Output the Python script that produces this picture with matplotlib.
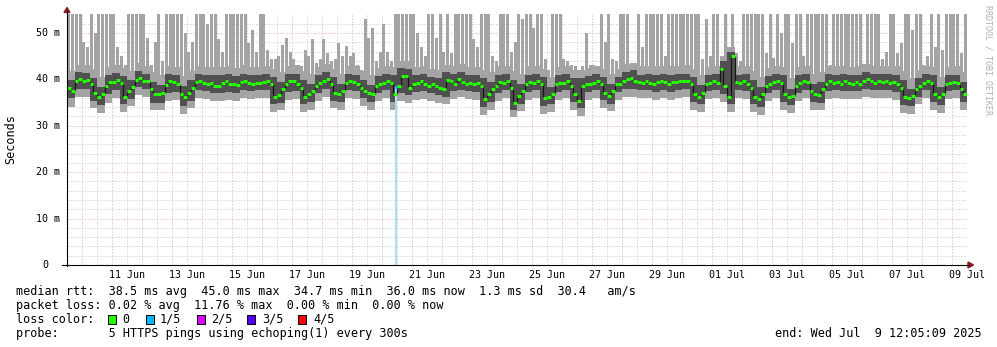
import matplotlib
import numpy as np
import pandas as pd

matplotlib.use("Agg")
import matplotlib.pyplot as plt
import matplotlib.dates as mdates
import matplotlib.transforms as mtransforms
from matplotlib.lines import Line2D
from matplotlib.patches import Polygon, Rectangle

# ---- data (ms), 3-hour steps from 9 Jun 12:05 ----
START = "2025-06-09 12:05:09"

median_rtt = [
    38.2, 37.5, 39.6, 40.0, 39.6, 39.9, 38.9, 37.1,
    36.3, 36.8, 38.6, 39.4, 39.4, 39.9, 39.3, 36.3,
    37.5, 38.4, 39.9, 40.4, 39.6, 39.6, 37.9, 36.8,
    36.8, 37.1, 38.7, 39.6, 39.4, 38.9, 36.8, 36.1,
    37.1, 38.2, 39.4, 39.6, 39.3, 39.1, 39.3, 38.6,
    38.6, 39.3, 39.6, 38.9, 39.1, 38.7, 39.4, 39.6,
    39.3, 39.1, 39.3, 39.3, 39.4, 39.6, 38.9, 36.3,
    36.6, 37.9, 38.9, 39.6, 39.6, 39.1, 38.2, 36.3,
    36.8, 37.5, 38.6, 39.3, 39.6, 40.0, 38.9, 37.1,
    36.8, 37.5, 39.3, 39.6, 39.4, 39.1, 38.2, 37.5,
    37.1, 36.8, 38.6, 39.1, 39.3, 39.6, 39.3, 36.8,
    38.6, 40.8, 40.7, 38.2, 38.9, 39.3, 39.6, 39.1,
    38.6, 38.9, 38.6, 38.2, 37.9, 39.9, 39.6, 39.1,
    40.0, 39.4, 39.1, 39.3, 38.9, 39.3, 38.6, 35.7,
    36.8, 37.9, 38.6, 39.4, 39.3, 39.6, 38.2, 35.0,
    36.4, 37.5, 38.9, 39.4, 39.3, 39.6, 38.9, 35.9,
    36.3, 36.8, 38.9, 39.3, 39.3, 39.6, 38.6, 36.8,
    35.4, 38.6, 38.9, 39.1, 39.3, 39.6, 38.9, 37.1,
    36.4, 37.5, 38.9, 38.9, 39.6, 40.0, 40.4, 39.6,
    39.4, 39.3, 39.6, 39.3, 38.9, 39.4, 39.6, 39.4,
    38.9, 39.4, 39.4, 39.6, 39.6, 39.6, 38.9, 36.8,
    36.3, 37.1, 39.1, 39.3, 39.6, 39.3, 42.3, 38.5,
    36.3, 45.0, 39.4, 39.3, 39.6, 39.1, 38.2, 36.3,
    35.7, 36.8, 38.6, 39.1, 39.4, 39.6, 39.3, 36.8,
    36.1, 36.4, 38.6, 39.3, 39.6, 39.4, 37.5, 36.8,
    36.6, 37.9, 39.1, 39.6, 39.3, 39.4, 39.1, 39.6,
    39.3, 39.1, 39.4, 39.1, 39.6, 40.0, 39.6, 39.3,
    39.6, 39.4, 39.6, 39.3, 39.4, 38.9, 38.2, 36.1,
    35.9, 36.4, 37.9, 38.6, 39.3, 39.6, 39.3, 36.8,
    36.1, 36.8, 39.1, 39.3, 39.4, 39.3, 37.9, 36.8,
]

# highest ping of each step (graph is cut at 54 ms)
smoke_top = [
    54, 54, 54, 54, 48, 47, 54, 50,
    54, 54, 54, 54, 54, 47, 45, 43,
    54, 54, 54, 54, 54, 49, 43, 48,
    54, 44, 54, 54, 54, 54, 54, 50,
    46, 48, 54, 54, 54, 52, 54, 54,
    48.6, 46, 54, 54, 54, 54, 54, 54,
    47.9, 50.7, 46, 54, 54, 46.4, 44.3, 44.3,
    45, 47.5, 48.9, 46, 44.3, 43, 42.9, 46.4,
    45, 48.6, 43.5, 44.3, 48.6, 45.7, 44, 44.3,
    47.9, 45, 47.1, 45, 45.7, 43, 42.1, 53,
    49, 51, 44, 46, 52, 46, 44, 54,
    54, 54, 54, 54, 54, 50, 47, 45,
    54, 54, 49, 54, 46, 54, 45.7, 54,
    54, 54, 54, 54, 48.6, 47, 54, 54,
    54, 45, 44, 54, 54, 54, 46, 48,
    54, 53, 54, 54, 51, 54, 54, 44.3,
    42, 54, 54, 54, 44.3, 44, 43, 42.9,
    42, 42.9, 50, 43, 43, 42.5, 54, 48,
    54, 44.3, 44, 54, 54, 54, 43.6, 43.6,
    54, 47, 54, 54, 54, 54, 54, 45,
    54, 54, 54, 54, 54, 54, 54, 54,
    54, 44.3, 53, 45, 54, 54, 45, 54,
    47, 54, 45.7, 44, 54, 54, 54, 54,
    54, 54, 45.7, 54, 44.5, 54, 50, 54,
    54, 47.9, 54, 54, 45, 54, 54, 54,
    54, 54, 54, 43, 54, 54, 54, 54,
    54, 54, 54, 54, 42, 54, 54, 54,
    54, 44.3, 46, 54, 54, 45.7, 47.9, 54,
    54, 50.7, 54, 54, 43, 45, 54, 47,
    54, 46.4, 54, 54, 54, 54, 45.7, 54,
]

# 6-hour steps: outer (light) smoke body, inner (dark) band and lowest ping
light_hi = [
    41.8, 43.2, 43.0, 42.3, 40.6, 42.6, 43.1, 42.5, 41.9, 43.5,
    42.9, 41.6, 40.9, 42.8, 42.7, 40.8, 41.8, 42.9, 42.6, 42.7,
    42.6, 42.9, 42.4, 43.0, 42.6, 42.7, 42.9, 42.3, 41.5, 42.9,
    43.0, 41.8, 41.2, 42.6, 43.3, 42.3, 41.2, 42.9, 42.8, 41.8,
    40.9, 42.5, 42.9, 42.6, 44.0, 43.9, 42.6, 42.9, 42.3, 42.0,
    43.2, 42.9, 43.3, 42.6, 42.7, 42.0, 41.5, 42.8, 42.9, 41.8,
    41.2, 42.8, 42.9, 42.3, 40.6, 42.6, 42.9, 42.0, 42.0, 42.4,
    42.9, 42.3, 41.2, 42.3, 43.3, 43.6, 42.8, 42.9, 42.8, 42.9,
    42.8, 42.9, 43.0, 42.3, 40.9, 42.6, 42.9, 45.0, 47.0, 42.8,
    42.9, 41.8, 40.6, 42.4, 42.9, 42.6, 40.3, 42.6, 42.9, 41.2,
    41.5, 42.9, 42.8, 42.9, 42.6, 42.8, 43.3, 42.9, 42.9, 42.9,
    42.8, 41.8, 40.3, 42.0, 42.9, 42.6, 40.6, 42.6, 42.8, 41.5,
]
dark_hi = [
    39.8, 41.5, 41.4, 40.4, 38.4, 40.9, 41.4, 40.8, 39.9, 41.9,
    41.2, 39.5, 38.8, 41.1, 41.0, 38.5, 39.8, 41.2, 40.9, 40.9,
    40.9, 41.2, 40.7, 41.2, 40.9, 40.9, 41.2, 40.5, 39.5, 41.2,
    41.2, 39.8, 39.1, 40.9, 41.6, 40.5, 39.1, 41.2, 41.0, 39.8,
    38.7, 40.7, 41.2, 40.9, 42.4, 42.3, 40.9, 41.2, 40.5, 40.2,
    41.5, 41.2, 41.6, 40.9, 40.9, 40.2, 39.5, 41.0, 41.2, 39.8,
    39.1, 41.0, 41.2, 40.5, 38.4, 40.9, 41.2, 40.2, 40.2, 40.7,
    41.2, 40.5, 39.1, 40.5, 41.6, 42.0, 41.0, 41.2, 41.0, 41.2,
    41.0, 41.2, 41.2, 40.5, 38.7, 40.9, 41.2, 43.9, 46.0, 41.0,
    41.2, 39.8, 38.4, 40.7, 41.2, 40.9, 38.0, 40.9, 41.2, 39.1,
    39.5, 41.2, 41.0, 41.2, 40.9, 41.0, 41.6, 41.2, 41.2, 41.2,
    41.0, 39.8, 38.0, 40.2, 41.2, 40.9, 38.4, 40.9, 41.0, 39.5,
]
dark_lo = [
    35.9, 38.0, 38.0, 35.4, 34.5, 36.8, 37.8, 34.6, 35.8, 38.3,
    38.0, 35.0, 35.0, 37.0, 37.2, 34.3, 35.4, 37.8, 37.5, 37.0,
    37.0, 37.3, 37.1, 37.8, 37.5, 37.7, 37.8, 34.6, 34.9, 37.3,
    37.5, 34.6, 35.1, 37.0, 38.0, 35.4, 35.1, 37.7, 37.5, 35.9,
    35.1, 37.0, 37.7, 35.1, 37.0, 36.6, 37.3, 37.5, 37.0, 36.6,
    36.3, 37.5, 37.8, 37.5, 37.3, 34.0, 35.2, 37.0, 37.7, 33.4,
    34.8, 37.3, 37.7, 34.3, 34.7, 37.3, 37.7, 35.2, 33.8, 37.3,
    37.7, 35.5, 34.8, 37.3, 38.0, 38.0, 37.7, 37.7, 37.3, 37.8,
    37.3, 37.8, 38.0, 35.2, 34.7, 37.5, 37.7, 36.9, 34.7, 37.7,
    37.5, 34.7, 34.1, 37.0, 37.8, 35.2, 34.5, 37.0, 37.8, 35.2,
    35.0, 37.5, 37.7, 37.5, 37.5, 37.5, 38.0, 37.7, 37.8, 37.7,
    37.3, 34.5, 34.3, 36.3, 37.7, 35.2, 34.5, 37.5, 37.7, 35.2,
]
light_lo = [
    34.0, 36.2, 36.3, 33.8, 32.8, 35.0, 36.0, 33.0, 34.2, 36.6,
    36.2, 33.4, 33.3, 35.3, 35.5, 32.6, 33.8, 36.0, 35.8, 35.3,
    35.3, 35.6, 35.4, 36.0, 35.8, 35.9, 36.0, 33.0, 33.3, 35.6,
    35.8, 33.0, 33.5, 35.3, 36.3, 33.8, 33.5, 35.9, 35.8, 34.2,
    33.5, 35.3, 35.9, 33.5, 35.3, 34.9, 35.6, 35.8, 35.3, 34.9,
    34.6, 35.8, 36.1, 35.8, 35.6, 32.4, 33.5, 35.3, 35.9, 31.8,
    33.1, 35.6, 35.9, 32.6, 33.0, 35.6, 35.9, 33.5, 32.2, 35.6,
    35.9, 33.8, 33.1, 35.6, 36.3, 36.3, 35.9, 35.9, 35.6, 36.0,
    35.6, 36.0, 36.2, 33.5, 33.0, 35.8, 35.9, 35.2, 33.0, 35.9,
    35.8, 33.0, 32.4, 35.3, 36.0, 33.5, 32.8, 35.3, 36.0, 33.5,
    33.4, 35.8, 35.9, 35.8, 35.8, 35.8, 36.3, 35.9, 36.0, 35.9,
    35.6, 32.8, 32.6, 34.6, 35.9, 33.5, 32.8, 35.8, 35.9, 33.5,
]

# the one sample with packet loss (1 of 5 pings)
loss_times = ["2025-06-20 11:20"]
loss_rtt = [38.4]

y_labels = ["0", "10 m", "20 m", "30 m", "40 m", "50 m"]
y_label_values = [0, 10, 20, 30, 40, 50]
x_label_days = pd.date_range("2025-06-11 12:00", "2025-07-09 12:00", freq="2D")

legend_lines = [
    "median rtt:  38.5 ms avg  45.0 ms max  34.7 ms min  36.0 ms now  1.3 ms sd  30.4   am/s",
    "packet loss: 0.02 % avg  11.76 % max  0.00 % min  0.00 % now",
    "loss color:",
    "probe:       5 HTTPS pings using echoping(1) every 300s",
]
loss_names = ["0", "1/5", "2/5", "3/5", "4/5"]
loss_colors = ["#26ff00", "#00b8ff", "#dd00ff", "#5500ff", "#ff0000"]
end_text = "end: Wed Jul  9 12:05:09 2025"

# ---- styling ----
W, H = 997, 347
MONO = "DejaVu Sans Mono"
LIGHT = "#a4a4a4"
DARK = "#505050"
GREEN = "#26ff00"
LOSS_BG = "#a6defa"
MGRID = "#e6a9a9"
GRID = "#c4c4c4"
ARROW = "#8c1c1c"
DOT = (0, (1, 2))


def fx(px):
    return px / W


def fy(py):
    return 1 - py / H


fig = plt.figure(figsize=(W / 100, H / 100), dpi=100)
ax = fig.add_axes([fx(67), fy(265), fx(967) - fx(67), fy(14.4) - fy(265)])

t3 = mdates.date2num(pd.date_range(START, periods=len(median_rtt) + 1, freq="3h").to_pydatetime())
t6 = t3[::2]
step = t3[1] - t3[0]
med = np.array(median_rtt)
low3 = np.repeat(light_lo, 2)

# grid
for d in pd.date_range("2025-06-10", "2025-07-09", freq="D"):
    ax.axvline(mdates.date2num(d.to_pydatetime()), color=MGRID, lw=0.72, ls=DOT, zorder=1)
for d in pd.date_range("2025-06-09 12:00", "2025-07-09 12:00", freq="D"):
    ax.axvline(mdates.date2num(d.to_pydatetime()), color=GRID, lw=0.72, ls=DOT, zorder=1)
for v in range(2, 54, 2):
    ax.axhline(v, color=MGRID if v % 10 == 0 else GRID, lw=0.72, ls=DOT, zorder=1)

# smoke: body, spikes, inner band
ax.stairs(light_hi, t6, baseline=light_lo, fill=True, color=LIGHT, lw=0, zorder=2)
ax.bar(t3[:-1] + step / 2, np.array(smoke_top) - low3, bottom=low3,
       width=step * 0.82, color=LIGHT, lw=0, antialiased=False, zorder=2)
ax.stairs(dark_hi, t6, baseline=dark_lo, fill=True, color=DARK, lw=0, zorder=3)

# loss background
loss_x = mdates.date2num(pd.to_datetime(loss_times).to_pydatetime())
ax.bar(loss_x, loss_rtt, width=1.6 / 24, color=LOSS_BG, lw=0, zorder=4)

# median
ax.vlines(t3[1:-1], med[:-1], med[1:], colors="#151515", lw=0.9, zorder=5)
ax.hlines(med, t3[:-1], t3[1:], colors=GREEN, lw=2.2, zorder=6)
ax.hlines(loss_rtt, loss_x - 0.8 / 24, loss_x + 0.8 / 24, colors=loss_colors[1], lw=2.4, zorder=7)

ax.set_xlim(t3[0], t3[-1])
ax.set_ylim(0, 54)
ax.axis("off")

# axes lines and arrows
fig.add_artist(Line2D([fx(67), fx(67)], [fy(266), fy(11)], color="black", lw=0.8))
fig.add_artist(Line2D([fx(62), fx(969)], [fy(265), fy(265)], color="black", lw=0.8))
fig.add_artist(Polygon([(fx(64), fy(12.5)), (fx(70), fy(12.5)), (fx(67), fy(7.5))],
                       closed=True, color=ARROW, transform=fig.transFigure))
fig.add_artist(Polygon([(fx(968), fy(262)), (fx(968), fy(268)), (fx(973.5), fy(265))],
                       closed=True, color=ARROW, transform=fig.transFigure))

# tick labels
ytrans = mtransforms.blended_transform_factory(fig.transFigure, ax.transData)
for v, s in zip(y_label_values, y_labels):
    x = fx(48) if s == "0" else fx(60)
    ax.text(x, v, s, transform=ytrans, ha="right", va="center",
            family=MONO, fontsize=7.2, clip_on=False)
xtrans = mtransforms.blended_transform_factory(ax.transData, fig.transFigure)
for d in x_label_days:
    ax.text(mdates.date2num(d.to_pydatetime()), fy(274.5), d.strftime("%d %b"),
            transform=xtrans, ha="center", va="center", family=MONO, fontsize=7.2, clip_on=False)

fig.text(fx(11), fy(139), "Seconds", rotation=90, ha="center", va="center",
         family=MONO, fontsize=8.5)
fig.text(fx(988), fy(60), "RRDTOOL / TOBI OETIKER", rotation=270, ha="center", va="center",
         family=MONO, fontsize=6.0, color="#b0b0b0")

# legend block
for row, line in enumerate(legend_lines):
    fig.text(fx(16), fy(291.5 + 14 * row), line, ha="left", va="center", family=MONO, fontsize=8.5)

box_x = [108, 146, 197, 247, 298]
text_x = [122, 160, 211, 262, 313]
for bx, tx, name, col in zip(box_x, text_x, loss_names, loss_colors):
    fig.add_artist(Rectangle((fx(bx), fy(324)), 8 / W, 9 / H, facecolor=col,
                             edgecolor="black", lw=0.7, transform=fig.transFigure))
    fig.text(fx(tx), fy(319.5), name, ha="left", va="center", family=MONO, fontsize=8.5)

fig.text(fx(982), fy(333.5), end_text, ha="right", va="center", family=MONO, fontsize=8.5)

fig.savefig("out.png", dpi=100, facecolor="white")
